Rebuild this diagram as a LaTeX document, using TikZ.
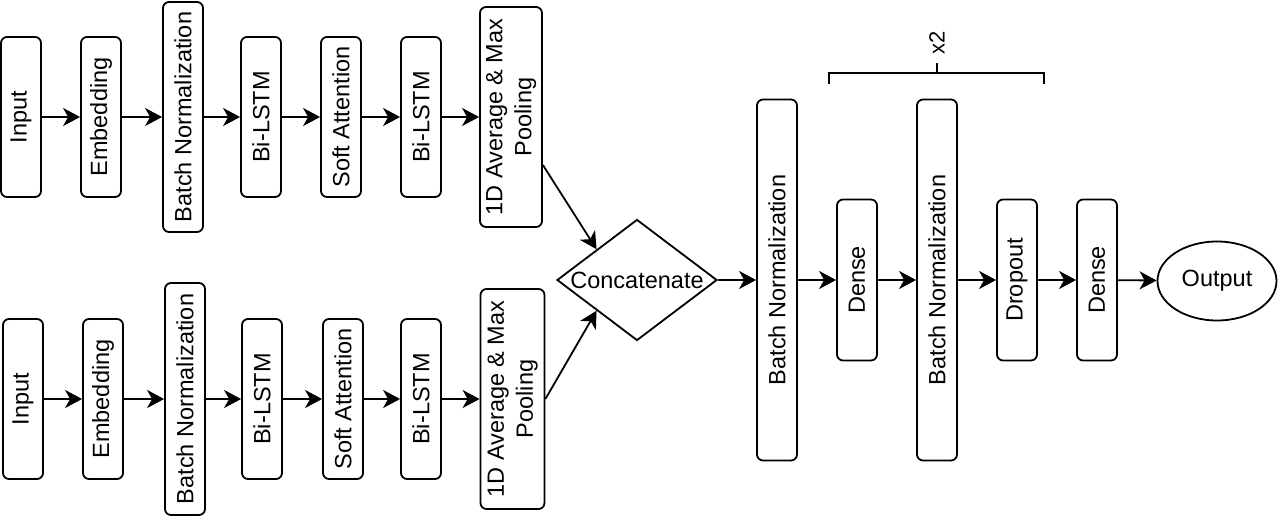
\documentclass[tikz,border=0pt]{standalone}
\usepackage{fontspec}
\setmainfont{Liberation Sans}
\usetikzlibrary{arrows.meta,shapes.geometric,calc}
\begin{document}
\begin{tikzpicture}[x=1pt,y=-1pt,
  every node/.style={font=\fontsize{23.5}{29}\selectfont},
  blk/.style={draw,line width=1.8pt,rounded corners=6pt,minimum width=40pt,inner sep=0pt},
  arr/.style={line width=1.8pt,-{Stealth[length=17pt,width=18pt,inset=5pt]}},
  ln/.style={line width=1.8pt}
]
\useasboundingbox (0,0) rectangle (1278,516);
% top row
\node[blk,minimum height=160pt] (in1) at (21,117) {\rotatebox{90}{Input}};
\node[blk,minimum height=160pt] (emb1) at (101,117) {\rotatebox{90}{Embedding}};
\node[blk,minimum height=230pt] (bn1) at (183,117) {\rotatebox{90}{Batch Normalization}};
\node[blk,minimum height=160pt] (ls1) at (261,117) {\rotatebox{90}{Bi-LSTM}};
\node[blk,minimum height=160pt] (sa1) at (341,117) {\rotatebox{90}{Soft Attention}};
\node[blk,minimum height=160pt] (lsb1) at (421,117) {\rotatebox{90}{Bi-LSTM}};
\node[blk,minimum width=62pt,minimum height=220pt] (pool1) at (511,117) {\rotatebox{90}{\begin{tabular}{@{}c@{}}1D Average \& Max\\Pooling\end{tabular}}};
% bottom row
\node[blk,minimum height=160pt] (in2) at (23,399) {\rotatebox{90}{Input}};
\node[blk,minimum height=160pt] (emb2) at (103,399) {\rotatebox{90}{Embedding}};
\node[blk,minimum height=232pt] (bn2) at (185,399) {\rotatebox{90}{Batch Normalization}};
\node[blk,minimum height=160pt] (ls2) at (262,399) {\rotatebox{90}{Bi-LSTM}};
\node[blk,minimum height=160pt] (sa2) at (343,399) {\rotatebox{90}{Soft Attention}};
\node[blk,minimum height=160pt] (lsb2) at (421,399) {\rotatebox{90}{Bi-LSTM}};
\node[blk,minimum width=64pt,minimum height=220pt] (pool2) at (512.5,399) {\rotatebox{90}{\begin{tabular}{@{}c@{}}1D Average \& Max\\Pooling\end{tabular}}};
% concatenate
\node[diamond,draw,line width=1.8pt,minimum width=160pt,minimum height=121pt,inner sep=0pt,label={center:Concatenate}] (cat) at (637,280) {};
% right part
\node[blk,minimum height=361pt] (bn3) at (777,280) {\rotatebox{90}{Batch Normalization}};
\node[blk,minimum height=161pt] (de1) at (857,280) {\rotatebox{90}{Dense}};
\node[blk,minimum height=361pt] (bn4) at (937,280) {\rotatebox{90}{Batch Normalization}};
\node[blk,minimum height=161pt] (dro) at (1017,280) {\rotatebox{90}{Dropout}};
\node[blk,minimum height=161pt] (de2) at (1097,280) {\rotatebox{90}{Dense}};
\node[ellipse,draw,line width=1.8pt,minimum width=119pt,minimum height=79pt,inner sep=0pt] (out) at (1217,281) {Output};
% arrows top
\draw[arr] (in1) -- (emb1);
\draw[arr] (emb1) -- (bn1);
\draw[arr] (bn1) -- (ls1);
\draw[arr] (ls1) -- (sa1);
\draw[arr] (sa1) -- (lsb1);
\draw[arr] (lsb1) -- (pool1);
% arrows bottom
\draw[arr] (in2) -- (emb2);
\draw[arr] (emb2) -- (bn2);
\draw[arr] (bn2) -- (ls2);
\draw[arr] (ls2) -- (sa2);
\draw[arr] (sa2) -- (lsb2);
\draw[arr] (lsb2) -- (pool2);
% into concatenate
\draw[arr] ([yshift=-48pt]pool1.east) -- ($(cat.west)!0.5!(cat.north)$);
\draw[arr] (pool2.east) -- ($(cat.west)!0.5!(cat.south)$);
% right chain
\draw[arr] (cat.east) -- (bn3);
\draw[arr] (bn3) -- (de1);
\draw[arr] (de1) -- (bn4);
\draw[arr] (bn4) -- (dro);
\draw[arr] (dro) -- (de2);
\draw[arr] (de2) -- (out);
% bracket
\coordinate (bl) at (829,84);
\coordinate (br) at (1044,84);
\coordinate (bm) at (937,73);
\coordinate (bt) at (937,63);
\draw[ln] (bl) -- (bl |- bm) -- (br |- bm) -- (br);
\draw[ln] (bm) -- (bt);
\node[font=\fontsize{22}{26}\selectfont] (x2) at (937,43) {\rotatebox{90}{x2}};
\end{tikzpicture}
\end{document}
